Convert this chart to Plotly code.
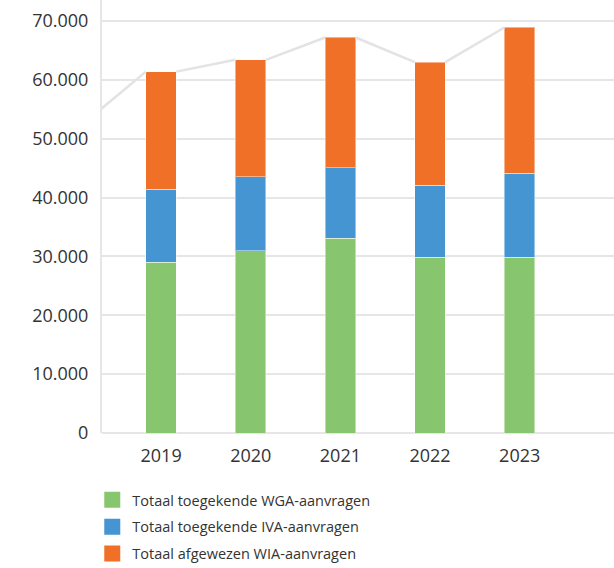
import plotly.graph_objects as go

jaren = [2019, 2020, 2021, 2022, 2023]
wga_toegekend = [29000, 31000, 33100, 29900, 29900]
iva_toegekend = [12400, 12500, 12000, 12200, 14200]
wia_afgewezen = [20000, 19900, 22100, 20900, 24800]

# total line incl. previous year (only its trailing segment is visible)
lijn_jaren = [2018, 2019, 2020, 2021, 2022, 2023]
lijn_totaal = [53000, 61400, 63400, 67200, 63000, 68900]

namen = ["Totaal toegekende WGA-aanvragen",
         "Totaal toegekende IVA-aanvragen",
         "Totaal afgewezen WIA-aanvragen"]
kleuren = ["#87c66f", "#4495d2", "#f07027"]

BAR_W = 0.34
FONT = "Open Sans"

fig = go.Figure()

# connecting line: diagonal segments between bar corners
lx, ly = [], []
for i in range(len(lijn_jaren) - 1):
    lx += [lijn_jaren[i] + BAR_W / 2, lijn_jaren[i + 1] - BAR_W / 2, None]
    ly += [lijn_totaal[i], lijn_totaal[i + 1], None]
fig.add_trace(go.Scatter(x=lx, y=ly, mode="lines",
                         line=dict(color="#e3e3e3", width=2.5),
                         showlegend=False, hoverinfo="skip"))

for vals, naam, kleur in zip([wga_toegekend, iva_toegekend, wia_afgewezen], namen, kleuren):
    fig.add_trace(go.Bar(x=jaren, y=vals, name=naam, width=BAR_W,
                         marker=dict(color=kleur, line=dict(color="rgba(255,255,255,0.45)", width=1)),
                         showlegend=False))

for i, (naam, kleur) in enumerate(zip(namen, kleuren)):
    fig.add_trace(go.Scatter(x=[None], y=[None], mode="markers", name=naam,
                             legendgroup=f"g{i}",
                             marker=dict(symbol="square", size=16, color=kleur)))

fig.update_layout(
    width=614, height=568,
    margin=dict(l=102, r=0, t=0, b=135),
    barmode="stack",
    plot_bgcolor="white", paper_bgcolor="white",
    separators=",.",
    font=dict(family=FONT, color="#333333", size=18),
    showlegend=True,
    legend=dict(x=-0.019, y=0.148, yref="container", xanchor="left", yanchor="top",
                font=dict(size=14.5, color="#333333", family=FONT),
                tracegroupgap=5, traceorder="grouped",
                bgcolor="rgba(0,0,0,0)"),
)
fig.update_xaxes(range=[2018.341, 2024.052], tickvals=jaren, ticktext=[str(j) for j in jaren],
                 showgrid=False, zeroline=False, showline=False,
                 ticks="", ticklabelstandoff=10,
                 tickfont=dict(size=18, color="#333333"))
fig.update_yaxes(range=[0, 73568], tickvals=[0, 10000, 20000, 30000, 40000, 50000, 60000, 70000],
                 tickformat=",d", showgrid=True, gridcolor="#e6e6e6", gridwidth=2,
                 zeroline=True, zerolinecolor="#e6e6e6", zerolinewidth=2,
                 showline=True, linecolor="#e6e6e6", linewidth=2,
                 ticks="", ticklabelstandoff=8,
                 tickfont=dict(size=18, color="#333333"))

fig.write_html("out.html", config={"displayModeBar": False},
               post_script="document.body.style.margin='0';")
